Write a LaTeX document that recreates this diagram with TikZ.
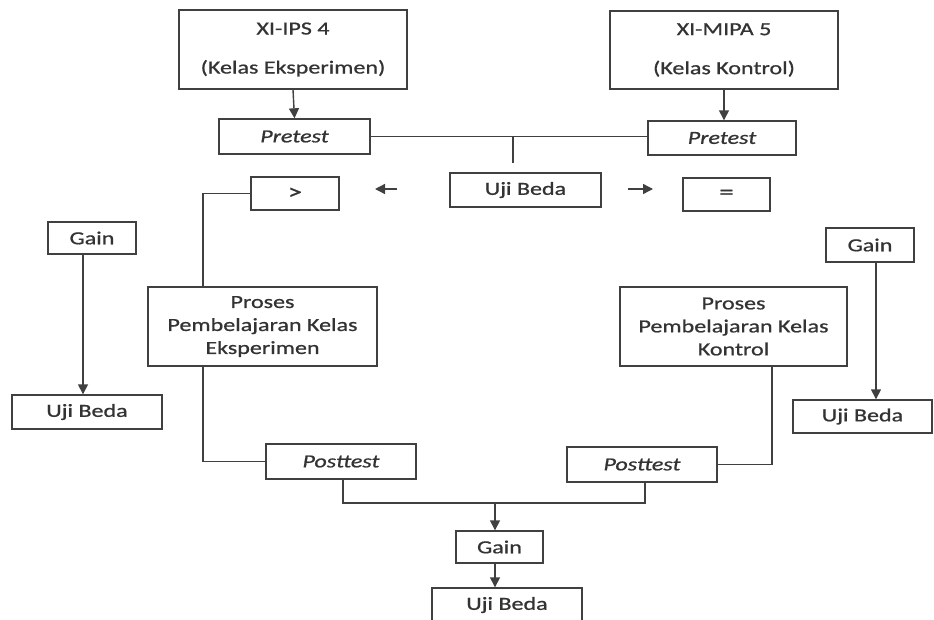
\documentclass[tikz,border=0pt]{standalone}
\usepackage{fontspec}
\setmainfont{Carlito}[FakeStretch=1.3,FakeBold=0.8]
\usetikzlibrary{arrows.meta}
\definecolor{ln}{HTML}{404040}
\definecolor{tx}{HTML}{333333}
\begin{document}
\begin{tikzpicture}[x=1pt,y=-1pt,
  box/.style={draw=ln,line width=1.4pt,rectangle,inner sep=0pt,align=center,text=tx,
    font=\fontsize{18.5}{22}\selectfont},
  conn/.style={draw=ln,line width=1.4pt},
  arr/.style={conn,-{Triangle[length=10pt,width=10pt]}}]
\useasboundingbox[fill=white] (0,0) rectangle (934,619);
% nodes
\node[box,minimum width=228pt,minimum height=79pt] (ips) at (293,49.5) {XI-IPS 4\\[17pt](Kelas Eksperimen)};
\node[box,minimum width=228pt,minimum height=78pt] (mipa) at (724,50) {XI-MIPA 5\\[17pt](Kelas Kontrol)};
\node[box,minimum width=151pt,minimum height=35pt] (preL) at (294.5,136.5) {\itshape Pretest};
\node[box,minimum width=148pt,minimum height=34pt] (preR) at (722,138) {\itshape Pretest};
\node[box,minimum width=88pt,minimum height=33pt] (gt) at (295,193.5) {\fontsize{22}{22}\selectfont >};
\node[box,minimum width=151pt,minimum height=34pt] (uji) at (525.5,190) {Uji Beda};
\node[box,minimum width=87pt,minimum height=33pt] (eq) at (726.5,194.5) {\fontsize{22}{22}\selectfont =};
\node[box,minimum width=88pt,minimum height=32pt] (gainL) at (92,238) {Gain};
\node[box,minimum width=150pt,minimum height=34pt] (ujiL) at (87,412) {Uji Beda};
\node[box,minimum width=88pt,minimum height=34pt] (gainR) at (870,245) {Gain};
\node[box,minimum width=139pt,minimum height=33pt] (ujiR) at (862.5,416.5) {Uji Beda};
\node[box,minimum width=229pt,minimum height=79pt] (prosL) at (262.5,326.5) {Proses\\[1pt]Pembelajaran Kelas\\[1pt]Eksperimen};
\node[box,minimum width=227pt,minimum height=79pt] (prosR) at (733.5,326.5) {Proses\\[1pt]Pembelajaran Kelas\\[1pt]Kontrol};
\node[box,minimum width=150pt,minimum height=35pt] (postL) at (341,461.5) {\itshape Posttest};
\node[box,minimum width=150pt,minimum height=35pt] (postR) at (642,464.5) {\itshape Posttest};
\node[box,minimum width=87pt,minimum height=32pt] (gain) at (499.5,547) {Gain};
\node[box,minimum width=150pt,minimum height=34pt] (ujiB) at (507,605) {Uji Beda};
% helper coordinates
\coordinate (j1) at (513,136);
\coordinate (j2) at (513,163);
\coordinate (la1) at (397,189);
\coordinate (la2) at (375,189);
\coordinate (ra1) at (628,189);
\coordinate (ra2) at (653,189);
\coordinate (lx) at (203,0);
\coordinate (rx) at (772,0);
\coordinate (pl) at (343,503);
\coordinate (pr) at (645,503);
\coordinate (pm) at (495,503);
% connectors
\draw[arr] (ips.south) -- (preL.north);
\draw[arr] (mipa.south) -- (mipa.south |- preR.north);
\draw[conn] (preL.east) -- (preL.east -| preR.west);
\draw[conn] (j1) -- (j2);
\draw[arr] (la1) -- (la2);
\draw[arr] (ra1) -- (ra2);
\draw[conn] (gt.west) -- (gt.west -| lx) -- (prosL.north -| lx);
\draw[conn] (prosL.south -| lx) |- (postL.west);
\draw[conn] (prosR.south -| rx) |- (postR.east);
\draw[conn] (postL.south -| pl) -- (pl) -- (pr) -- (postR.south -| pr);
\draw[arr] (pm) -- (gain.north -| pm);
\draw[arr] (gain.south -| pm) -- (ujiB.north -| pm);
\draw[arr] (gainL.south -| 83,0) -- (ujiL.north -| 83,0);
\draw[arr] (gainR.south -| 876,0) -- (ujiR.north -| 876,0);
\end{tikzpicture}
\end{document}
